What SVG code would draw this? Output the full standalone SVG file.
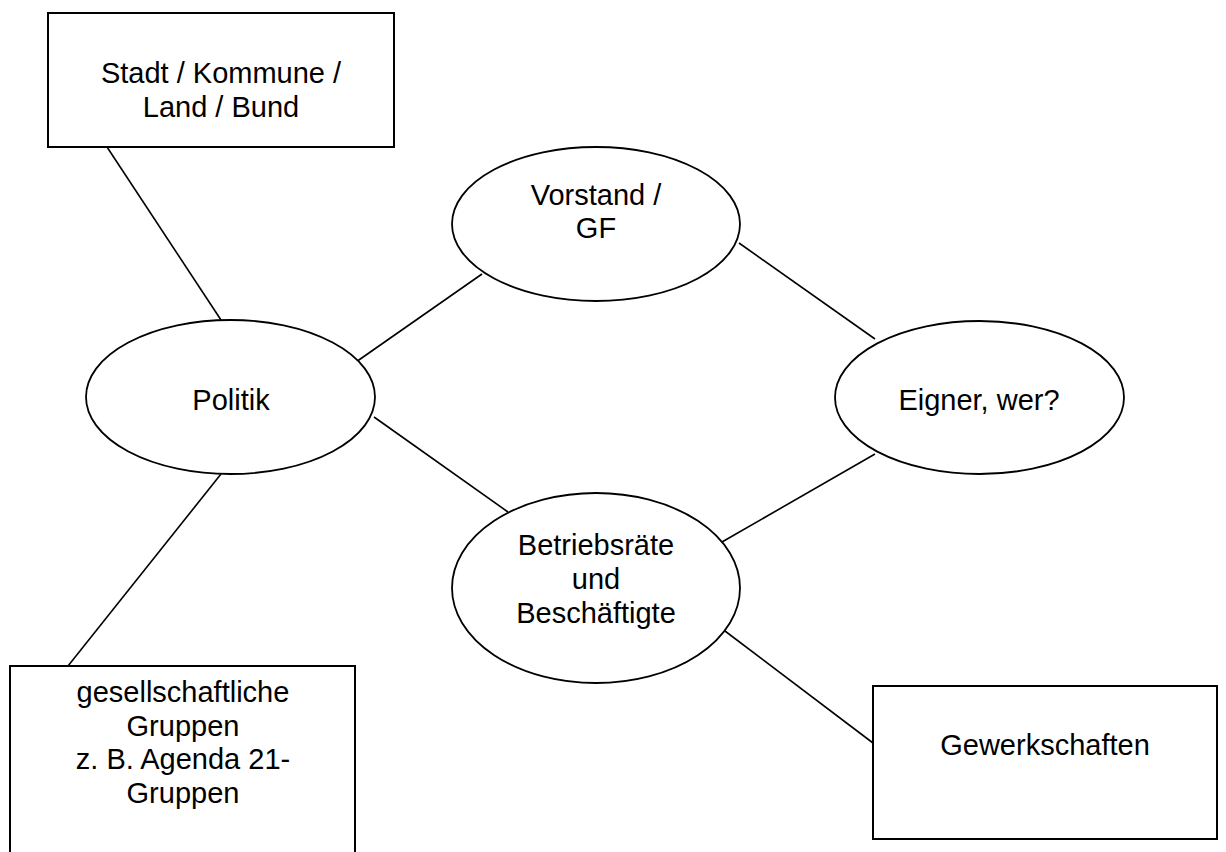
<svg xmlns="http://www.w3.org/2000/svg" width="1226" height="852" viewBox="0 0 1226 852">
  <style>
    .box { fill: #ffffff; stroke: #000000; stroke-width: 2; }
    .ell { fill: #ffffff; stroke: #000000; stroke-width: 1.8; }
    .con line { stroke: #000000; stroke-width: 1.6; }
    text { font-family: "Liberation Sans", Arial, sans-serif; font-size: 29px; fill: #000000; text-anchor: middle; }
  </style>
  <rect width="1226" height="852" fill="#ffffff"/>
  <g id="connectors" class="con">
    <line x1="107" y1="147" x2="221" y2="320"/>
    <line x1="356" y1="362" x2="482" y2="274"/>
    <line x1="739" y1="243" x2="875" y2="339"/>
    <line x1="374" y1="417" x2="508" y2="512"/>
    <line x1="875" y1="454" x2="722" y2="542"/>
    <line x1="221" y1="474" x2="68" y2="666"/>
    <line x1="721" y1="628" x2="873" y2="743"/>
  </g>
  <g id="stadt">
    <rect class="box" x="48" y="13" width="346" height="134"/>
    <text x="221" y="83">Stadt / Kommune /</text>
    <text x="221" y="117">Land / Bund</text>
  </g>
  <g id="vorstand">
    <ellipse class="ell" cx="596" cy="224" rx="144" ry="77"/>
    <text x="596" y="205">Vorstand /</text>
    <text x="596" y="238">GF</text>
  </g>
  <g id="politik">
    <ellipse class="ell" cx="230.5" cy="397" rx="144.5" ry="77"/>
    <text x="231" y="410">Politik</text>
  </g>
  <g id="eigner">
    <ellipse class="ell" cx="979.5" cy="397.5" rx="144.5" ry="76.5"/>
    <text x="979" y="410">Eigner, wer?</text>
  </g>
  <g id="betriebsraete">
    <ellipse class="ell" cx="596" cy="588" rx="144" ry="95"/>
    <text x="596" y="555">Betriebsräte</text>
    <text x="596" y="589">und</text>
    <text x="596" y="623">Beschäftigte</text>
  </g>
  <g id="gruppen">
    <rect class="box" x="10" y="666" width="345" height="200"/>
    <text x="183" y="702">gesellschaftliche</text>
    <text x="183" y="736">Gruppen</text>
    <text x="183" y="769">z. B. Agenda 21-</text>
    <text x="183" y="803">Gruppen</text>
  </g>
  <g id="gewerkschaften">
    <rect class="box" x="873" y="686" width="344" height="153"/>
    <text x="1045" y="755">Gewerkschaften</text>
  </g>
</svg>
